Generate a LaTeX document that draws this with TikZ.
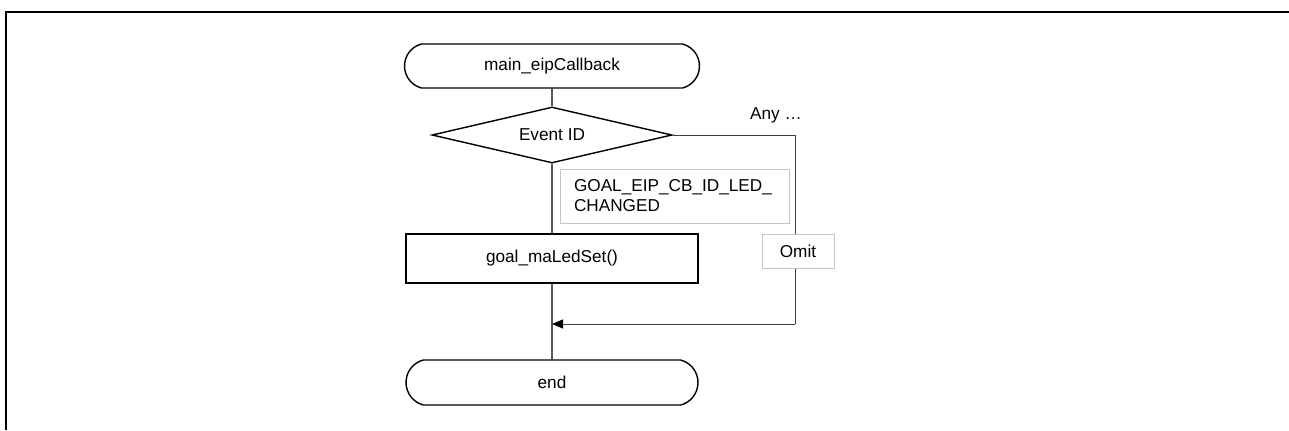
\documentclass[tikz,border=0pt]{standalone}
\usepackage{fontspec}
\setmainfont{Liberation Sans}
\usetikzlibrary{shapes.geometric,shapes.misc,arrows.meta,positioning}

\tikzset{
	term/.style={draw, rounded rectangle, rounded rectangle arc length=150, line width=0.7pt, minimum width=147.5pt, minimum height=22pt, inner sep=0pt},
	decide/.style={draw, diamond, line width=0.7pt, aspect=4.29, minimum width=120pt, minimum height=28pt, inner sep=0pt},
	proc/.style={draw, line width=0.7pt, minimum width=146pt, minimum height=24.5pt, inner sep=0pt},
	lbl/.style={draw=gray!45, line width=0.5pt, fill=white, inner sep=0pt},
	flow/.style={line width=0.7pt},
	side/.style={line width=0.45pt, draw=black!75},
}

\begin{document}
\begin{tikzpicture}[x=0.5pt, y=-0.5pt, font=\fontsize{8.6}{10}\selectfont]
	\useasboundingbox (0,0) rectangle (1289,430);
	\draw[line width=1pt] (1289,12) -- (6,12) -- (6,430);
	
	\node[term] (start) at (552,66) {main\_eipCallback};
	\node[decide] (event) at (552,135) {Event ID};
	\node[proc] (led) at (552,258.5) {goal\_maLedSet()};
	\node[term, minimum width=146pt, minimum height=22.5pt] (stop) at (552,382.5) {end};
	\coordinate (turn) at (795,135);
	\coordinate (join) at (552,324);
	
	\draw[flow] (start) -- (event) -- (led) -- (stop);
	\draw[side] (event.east) -- (turn) -- (turn |- join);
	\draw[side, -{Triangle[length=5.5pt, width=4.5pt, color=black]}] (turn |- join) -- (join);
	
	\node[lbl, minimum width=114.5pt, minimum height=27pt, text width=100.5pt, inner xsep=7pt, align=left] (ledlbl) at (674.5,196) {GOAL\_EIP\_CB\_ID\_LED\_\\CHANGED};
	\node[lbl, minimum width=36pt, minimum height=17pt] (omit) at (798,251) {Omit};
	\node (any) at (776,115) {Any …};
\end{tikzpicture}
\end{document}
